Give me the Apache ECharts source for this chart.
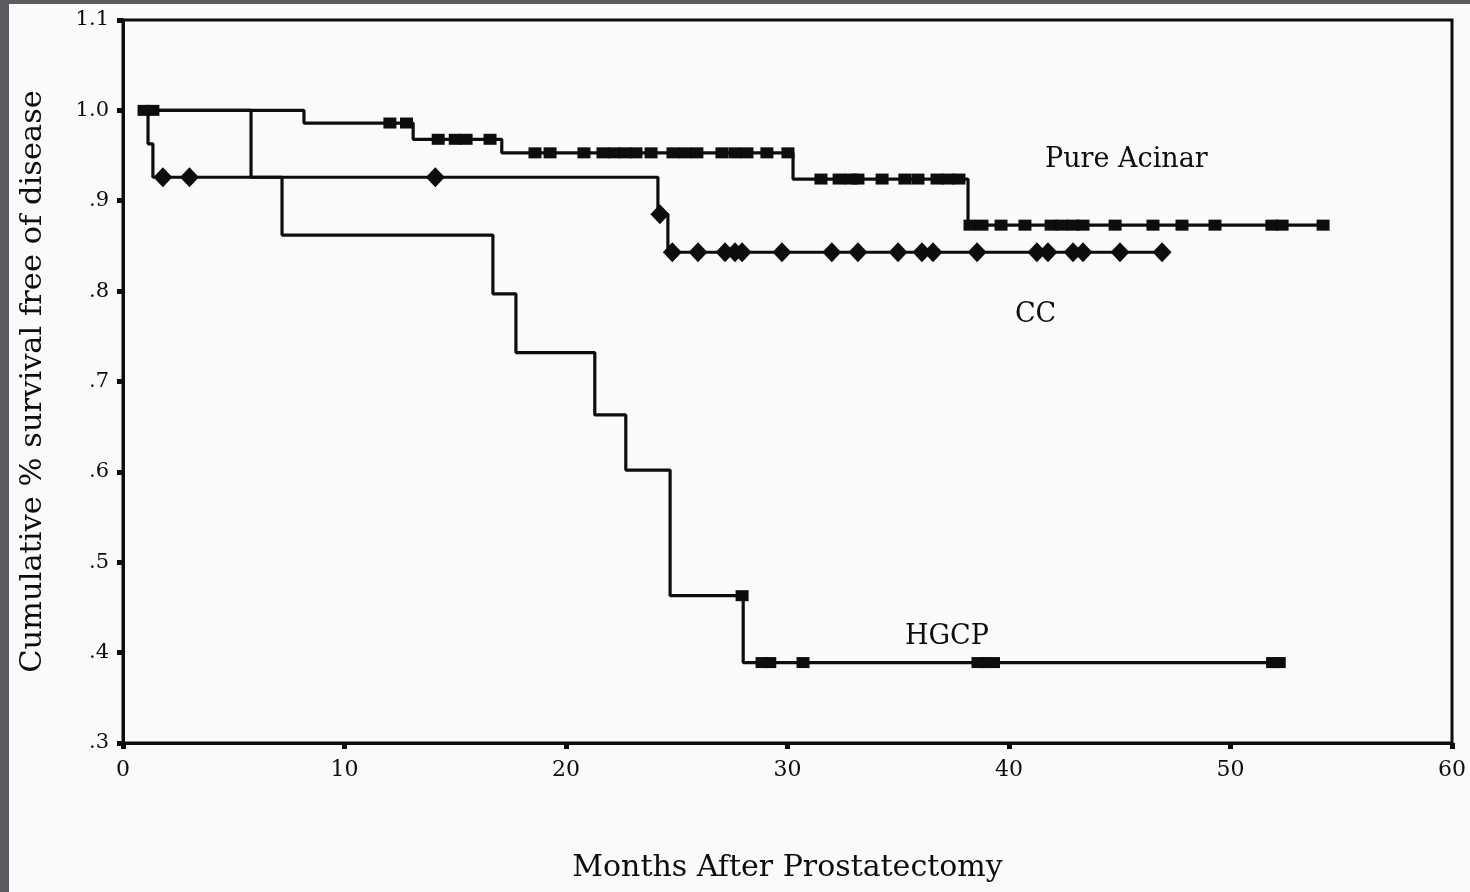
<!DOCTYPE html>
<html>
<head>
<meta charset="utf-8">
<script src="https://cdn.jsdelivr.net/npm/echarts@6/dist/echarts.min.js"></script>
<style>
  html, body { margin: 0; padding: 0; background: #fafafa; }
  #chart { position: absolute; left: 0; top: 0; width: 1470px; height: 892px; }
  .band { position: absolute; background: #5c5b60; }
</style>
</head>
<body>
<div id="chart"></div>
<div class="band" style="left:0;top:0;width:1470px;height:4px"></div>
<div class="band" style="left:0;top:0;width:9px;height:892px"></div>
<script>
// x ticks (months) and y ticks (survival)
var xTicks = [0, 10, 20, 30, 40, 50, 60];
var yTicks = [0.3, 0.4, 0.5, 0.6, 0.7, 0.8, 0.9, 1.0, 1.1];

// Pure Acinar: step times / survival after step, censored times
var acinarT = [0.9, 8.17, 13.1, 17.1, 30.25, 38.15, 54.2];
var acinarS = [1.0, 0.986, 0.968, 0.953, 0.924, 0.873, 0.873];
var acinarCens = [0.95, 1.35, 12.05, 12.8, 14.23, 15.0, 15.49, 16.57, 18.6, 19.28, 20.81,
  21.67, 22.17, 22.66, 23.16, 23.84, 24.83, 25.37, 25.91, 27.04, 27.63, 28.17, 29.07, 30.02,
  31.51, 32.33, 32.87, 33.18, 34.27, 35.3, 35.89, 36.75, 37.25, 37.74, 38.24, 38.78, 39.64,
  40.72, 41.9, 42.39, 42.89, 43.34, 44.79, 46.5, 47.81, 49.3, 51.87, 52.33, 54.18];

// CC
var ccT = [1.0, 1.13, 1.35, 24.15, 24.6, 46.9];
var ccS = [1.0, 0.963, 0.926, 0.885, 0.843, 0.843];
var ccCens = [1.8, 3.0, 14.1, 24.24, 24.8, 25.96, 27.18, 27.63, 27.95, 29.75, 32.0, 33.18,
  34.99, 36.07, 36.57, 38.56, 41.26, 41.76, 42.89, 43.34, 45.01, 46.91];

// HGCP
var hgT = [1.0, 5.78, 7.18, 16.7, 17.74, 21.3, 22.7, 24.7, 28.0, 52.1];
var hgS = [1.0, 0.926, 0.862, 0.797, 0.732, 0.663, 0.602, 0.463, 0.389, 0.389];
var hgCens = [27.95, 28.85, 29.2, 30.7, 38.6, 39.0, 39.3, 51.9, 52.2];

// curve labels [month, survival, text]
var curveNames = [[45.3, 0.945, 'Pure Acinar'], [41.2, 0.774, 'CC'], [37.2, 0.417, 'HGCP']];

var FONT = '"DejaVu Serif", "Liberation Serif", serif';
var INK = '#0d0d0d';

function pairs(t, s) {
  return t.map(function (v, i) { return [v, s[i]]; });
}
// survival value at time x (last step at or before x)
function survAt(t, s, x) {
  var v = s[0];
  for (var i = 0; i < t.length; i++) {
    if (t[i] <= x) v = s[i];
  }
  return v;
}
function censPts(t, s, c) {
  return c.map(function (x) { return [x, survAt(t, s, x)]; });
}

function stepLine(name, t, s) {
  return {
    name: name,
    type: 'line',
    step: 'end',
    data: pairs(t, s),
    showSymbol: false,
    lineStyle: { color: INK, width: 3.2 },
    animation: false,
    z: 2
  };
}
function censMarks(name, t, s, c, symbol, size) {
  return {
    name: name + ' censored',
    type: 'scatter',
    data: censPts(t, s, c),
    symbol: symbol,
    symbolSize: size,
    itemStyle: { color: INK, opacity: 1 },
    animation: false,
    z: 3
  };
}

var myChart = echarts.init(document.getElementById('chart'));

var option = {
  backgroundColor: '#fafafa',
  grid: {
    left: 123, top: 20, right: 18, bottom: 149,
    show: true, borderColor: INK, borderWidth: 3, backgroundColor: 'transparent'
  },
  xAxis: {
    type: 'value',
    min: xTicks[0], max: xTicks[xTicks.length - 1], interval: 10,
    name: 'Months After Prostatectomy',
    nameLocation: 'middle',
    nameGap: 110,
    nameTextStyle: { fontFamily: FONT, fontSize: 30, color: INK },
    axisLine: { lineStyle: { color: INK, width: 3 } },
    axisTick: { show: true, length: 6, lineStyle: { color: INK, width: 5 } },
    axisLabel: { fontFamily: FONT, fontSize: 22, color: INK, margin: 16 },
    splitLine: { show: false }
  },
  yAxis: {
    type: 'value',
    min: yTicks[0], max: yTicks[yTicks.length - 1], interval: 0.1,
    name: 'Cumulative % survival free of disease',
    nameLocation: 'middle',
    nameGap: 74,
    nameRotate: 90,
    nameTextStyle: { fontFamily: FONT, fontSize: 30.5, color: INK },
    axisLine: { lineStyle: { color: INK, width: 3 } },
    axisTick: { show: true, length: 6, lineStyle: { color: INK, width: 5 } },
    axisLabel: {
      fontFamily: FONT, fontSize: 21, color: INK, margin: 14,
      formatter: function (v) {
        var r = Math.round(v * 10) / 10;
        if (r >= 1) return r.toFixed(1);
        return r.toFixed(1).replace(/^0/, '');
      }
    },
    splitLine: { show: false }
  },
  series: [
    stepLine('Pure Acinar', acinarT, acinarS),
    stepLine('CC', ccT, ccS),
    stepLine('HGCP', hgT, hgS),
    censMarks('Pure Acinar', acinarT, acinarS, acinarCens, 'rect', [13, 11]),
    censMarks('CC', ccT, ccS, ccCens, 'diamond', [19, 20]),
    censMarks('HGCP', hgT, hgS, hgCens, 'rect', [13, 11]),
    {
      name: 'labels',
      type: 'scatter',
      data: curveNames.map(function (d) { return { value: [d[0], d[1]], name: d[2] }; }),
      symbolSize: 0,
      silent: true,
      animation: false,
      itemStyle: { opacity: 1 },
      label: {
        show: true, position: 'inside',
        formatter: function (p) { return p.name; },
        fontFamily: FONT, fontSize: 27, color: INK
      }
    }
  ]
};

myChart.setOption(option);
</script>
</body>
</html>
